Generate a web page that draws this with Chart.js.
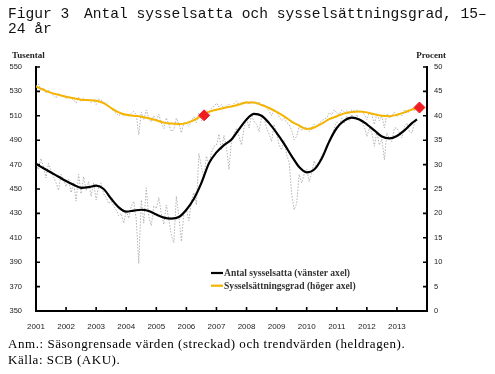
<!DOCTYPE html>
<html lang="sv">
<head>
<meta charset="utf-8">
<script src="https://cdn.jsdelivr.net/npm/chart.js@4.4.1/dist/chart.umd.min.js"></script>
<style>
  html, body { margin: 0; padding: 0; background: #fff; }
  #wrap { position: relative; width: 495px; height: 374px; overflow: hidden; }
  #graf { position: absolute; left: 0; top: 0; }
  .titel { position: absolute; font-family: "Liberation Mono", monospace; font-size: 14.6px; line-height: 15px; white-space: pre; color: #111; }
  .not { position: absolute; left: 8px; font-family: "Liberation Serif", serif; font-size: 13px; line-height: 15.5px; letter-spacing: 0.55px; color: #000; white-space: nowrap; }
</style>
</head>
<body>
<div id="wrap">
  <canvas id="graf" width="495" height="374"></canvas>
  <div class="titel" style="left:8px;top:7px">Figur 3</div>
  <div class="titel" style="left:84px;top:7px">Antal sysselsatta och sysselsättningsgrad, 15–</div>
  <div class="titel" style="left:8px;top:22px">24 år</div>
  <div class="not" style="top:336px">Anm.: Säsongrensade värden (streckad) och trendvärden (heldragen).<br>Källa: SCB (AKU).</div>
</div>
<script>
// === DATA ===
const startAr = 2001;

// Antal sysselsatta 15-24 år, tusental, säsongrensat (månad, jan 2001 - sep 2013)
const antal = [
  470, 466, 475, 468, 459, 471, 465, 460, 455, 449, 462, 458,
  452, 458, 447, 455, 440, 462, 446, 460, 449, 456, 444, 455,
  441, 452, 455, 446, 443, 438, 440, 436, 433, 428, 430, 422,
  432, 426, 436, 440, 425, 389, 441, 422, 451, 427, 420, 436,
  434, 443, 430, 421, 437, 425, 412, 406, 444, 428, 407, 430,
  433, 424, 440, 447, 437, 479, 468, 459, 477, 470, 480, 485,
  486, 495, 482, 494, 484, 466, 490, 495, 500, 493, 486, 500,
  508, 500, 511, 505, 503, 497, 509, 508, 500, 495, 489, 503,
  495, 486, 482, 490, 478, 472, 446, 433, 438, 462, 455, 462,
  466, 456, 463, 473, 467, 472, 478, 480, 486, 489, 492, 500,
  505, 502, 508, 504, 510, 506, 511, 508, 511, 506, 505, 501,
  493, 500, 496, 485, 497, 486, 491, 474, 496, 491, 489, 500,
  500, 496, 492, 501, 504, 497, 496, 504, 506
];

// Sysselsättningsgrad, procent, säsongrensat (månad)
const grad = [
  46.0, 46.5, 45.2, 45.8, 44.6, 45.2, 44.9, 44.1, 43.6, 44.6, 44.0, 44.3,
  43.5, 44.0, 43.6, 43.3, 42.6, 43.8, 42.9, 43.7, 43.0, 43.4, 42.7, 43.2,
  42.3, 43.4, 43.2, 42.8, 42.5, 41.8, 41.4, 40.9, 40.5, 40.0, 40.4, 39.9,
  40.3, 40.0, 40.5, 40.9, 40.2, 36.1, 40.8, 39.2, 41.2, 39.5, 38.7, 40.0,
  39.0, 40.3, 38.5, 37.4, 39.6, 38.2, 36.8, 37.2, 39.5, 38.4, 36.5, 38.6,
  38.4, 37.8, 39.0, 39.8, 38.6, 40.6, 39.0, 40.2, 41.0, 40.8, 41.5, 41.9,
  42.6, 41.8, 42.3, 41.5, 42.0, 42.4, 41.7, 42.5, 43.0, 42.2, 42.7, 42.4,
  43.0, 42.3, 43.0, 42.6, 42.4, 42.8, 42.0, 42.4, 41.6, 41.0, 40.0, 41.2,
  40.8, 39.8, 39.0, 39.5, 38.6, 38.2, 37.0, 35.1, 35.8, 37.8, 37.0, 37.6,
  37.6, 36.8, 37.2, 38.3, 37.9, 38.5, 39.0, 39.3, 39.6, 40.6, 40.2, 41.2,
  40.6, 40.3, 41.2, 40.8, 41.0, 40.7, 41.2, 41.0, 41.2, 40.8, 40.9, 40.3,
  39.2, 40.8, 40.2, 38.2, 40.5, 39.0, 40.0, 37.5, 40.4, 39.6, 40.0, 40.8,
  39.8, 40.4, 40.0, 41.2, 40.6, 40.9, 41.5, 41.0, 41.8
];

// Trendvärden, avlästa varje kvartal (månadsindex från jan 2001)
const trendManad = [
  0, 3, 6, 9, 12, 15, 18, 21, 24, 27, 30, 33, 36, 39, 42, 45, 48, 51, 54, 57,
  60, 63, 66, 69, 72, 75, 78, 81, 84, 87, 90, 93, 96, 99, 102, 105, 108, 111,
  114, 117, 120, 123, 126, 129, 132, 135, 138, 141, 144, 147, 150, 152
];
const trendAntal = [
  470.5, 467, 463.5, 460, 456.5, 453.5, 451, 451.5, 452.7, 450, 442, 435,
  431.5, 432.3, 433, 432, 429, 426.5, 425.7, 427, 433, 442, 455, 471,
  480, 486, 490.5, 499, 507, 511.5, 510, 504, 496, 487, 477, 468,
  463.7, 466, 475, 489, 500, 506, 508.5, 507, 503, 498, 493, 491.5,
  493.5, 498, 504, 507
];
const trendGrad = [
  46.0, 45.3, 44.7, 44.3, 43.9, 43.6, 43.3, 43.2, 43.1, 42.6, 41.6, 40.7,
  40.2, 40.0, 39.8, 39.5, 39.1, 38.6, 38.4, 38.3, 38.5, 39.1, 40.0, 40.8,
  41.25, 41.6, 41.9, 42.3, 42.7, 42.7, 42.2, 41.6, 40.8, 39.9, 38.8, 38.0,
  37.3, 37.6, 38.4, 39.3, 39.9, 40.5, 40.8, 40.9, 40.7, 40.3, 40.0, 39.9,
  40.2, 40.7, 41.3, 41.6
];

// Tidsseriebrott (röda markeringar)
const brottAr = [2006.59, 2013.75];
const brottGrad = [40.1, 41.7];

const arTicks = [2001, 2002, 2003, 2004, 2005, 2006, 2007, 2008, 2009, 2010, 2011, 2012, 2013];

const GUL = "#f4b400";
const GRA = "#b2b2b2";

const manadPunkter = vals => vals.map((v, i) => ({ x: startAr + i / 12, y: v }));
const trendPunkter = vals => vals.map((v, i) => ({ x: startAr + trendManad[i] / 12, y: v }));

// === PLUGINS ===
// tickmarkeringar innanför axlarna + axeltitlar
const inreTicks = {
  id: "inreTicks",
  afterDraw(chart) {
    const { ctx, chartArea: a, scales } = chart;
    ctx.save();
    ctx.strokeStyle = "#000";
    ctx.lineWidth = 1.6;
    ctx.beginPath();
    arTicks.forEach(v => {
      if (v === startAr) return;
      const px = scales.x.getPixelForValue(v);
      ctx.moveTo(px, a.bottom); ctx.lineTo(px, a.bottom - 4);
    });
    scales.y.ticks.forEach(t => {
      const py = scales.y.getPixelForValue(t.value);
      ctx.moveTo(a.left, py); ctx.lineTo(a.left + 4, py);
    });
    scales.y1.ticks.forEach(t => {
      const py = scales.y1.getPixelForValue(t.value);
      ctx.moveTo(a.right, py); ctx.lineTo(a.right - 4, py);
    });
    ctx.stroke();

    ctx.fillStyle = "#222";
    ctx.font = "bold 9px 'Liberation Serif', serif";
    ctx.textBaseline = "alphabetic";
    ctx.textAlign = "left";
    ctx.fillText("Tusental", 12, 58);
    ctx.textAlign = "right";
    ctx.fillText("Procent", 446, 58);
    ctx.restore();
  }
};

// förklaring inne i diagrammet
const forklaring = {
  id: "forklaring",
  afterDraw(chart) {
    const { ctx, chartArea: a } = chart;
    const poster = chart.data.datasets.filter(d => d.iForklaring);
    ctx.save();
    ctx.font = "bold 9.6px 'Liberation Serif', serif";
    ctx.textBaseline = "middle";
    ctx.textAlign = "left";
    poster.forEach((d, i) => {
      const x0 = a.left + 175;
      const y0 = a.bottom - 38 + i * 12.7;
      ctx.strokeStyle = d.borderColor;
      ctx.lineWidth = 2.2;
      ctx.beginPath();
      ctx.moveTo(x0, y0); ctx.lineTo(x0 + 12, y0);
      ctx.stroke();
      ctx.fillStyle = "#333";
      ctx.fillText(d.label, x0 + 13, y0 + 0.5);
    });
    ctx.restore();
  }
};

// === GRAF ===
new Chart(document.getElementById("graf"), {
  type: "line",
  data: {
    datasets: [
      {
        type: "scatter",
        label: "Brott",
        data: brottAr.map((x, i) => ({ x, y: brottGrad[i] })),
        yAxisID: "y1",
        pointStyle: "rectRot",
        pointRadius: 5.5,
        pointBackgroundColor: "#f01e23",
        pointBorderColor: "#f01e23",
        showLine: false,
        order: 0
      },
      {
        label: "Antal sysselsatta (vänster axel)",
        data: trendPunkter(trendAntal),
        yAxisID: "y",
        borderColor: "#000",
        borderWidth: 2.2,
        pointRadius: 0,
        cubicInterpolationMode: "monotone",
        iForklaring: true,
        order: 1
      },
      {
        label: "Sysselsättningsgrad (höger axel)",
        data: trendPunkter(trendGrad),
        yAxisID: "y1",
        borderColor: GUL,
        borderWidth: 2,
        pointRadius: 0,
        cubicInterpolationMode: "monotone",
        iForklaring: true,
        order: 2
      },
      {
        label: "Antal, säsongrensat",
        data: manadPunkter(antal),
        yAxisID: "y",
        borderColor: GRA,
        borderWidth: 1,
        borderDash: [1.5, 1.5],
        pointRadius: 0,
        tension: 0,
        order: 3
      },
      {
        label: "Grad, säsongrensat",
        data: manadPunkter(grad),
        yAxisID: "y1",
        borderColor: GRA,
        borderWidth: 1,
        borderDash: [1.5, 1.5],
        pointRadius: 0,
        tension: 0,
        order: 4
      }
    ]
  },
  options: {
    responsive: false,
    animation: false,
    layout: { padding: { top: 67, left: 0, right: 0, bottom: 0 } },
    plugins: {
      legend: { display: false },
      tooltip: { enabled: false },
      title: { display: false }
    },
    scales: {
      x: {
        type: "linear",
        min: 2001,
        max: 2014,
        border: { display: true, color: "#000", width: 2 },
        grid: { display: false, drawTicks: false },
        afterFit: s => { s.height = 63; },
        afterBuildTicks: s => { s.ticks = arTicks.map(v => ({ value: v })); },
        ticks: {
          autoSkip: false,
          maxRotation: 0,
          padding: 11,
          color: "#222",
          font: { family: "'Liberation Sans', sans-serif", size: 8 },
          callback: v => String(v)
        }
      },
      y: {
        position: "left",
        min: 350,
        max: 550,
        border: { display: true, color: "#000", width: 2 },
        grid: { display: false, drawTicks: false },
        afterFit: s => { s.width = 36; },
        ticks: {
          stepSize: 20,
          padding: 14,
          color: "#222",
          font: { family: "'Liberation Sans', sans-serif", size: 7.5 }
        }
      },
      y1: {
        position: "right",
        min: 0,
        max: 50,
        border: { display: true, color: "#000", width: 2 },
        grid: { display: false, drawTicks: false },
        afterFit: s => { s.width = 68; },
        ticks: {
          stepSize: 5,
          padding: 7,
          color: "#222",
          font: { family: "'Liberation Sans', sans-serif", size: 7.5 }
        }
      }
    }
  },
  plugins: [inreTicks, forklaring]
});
</script>
</body>
</html>
